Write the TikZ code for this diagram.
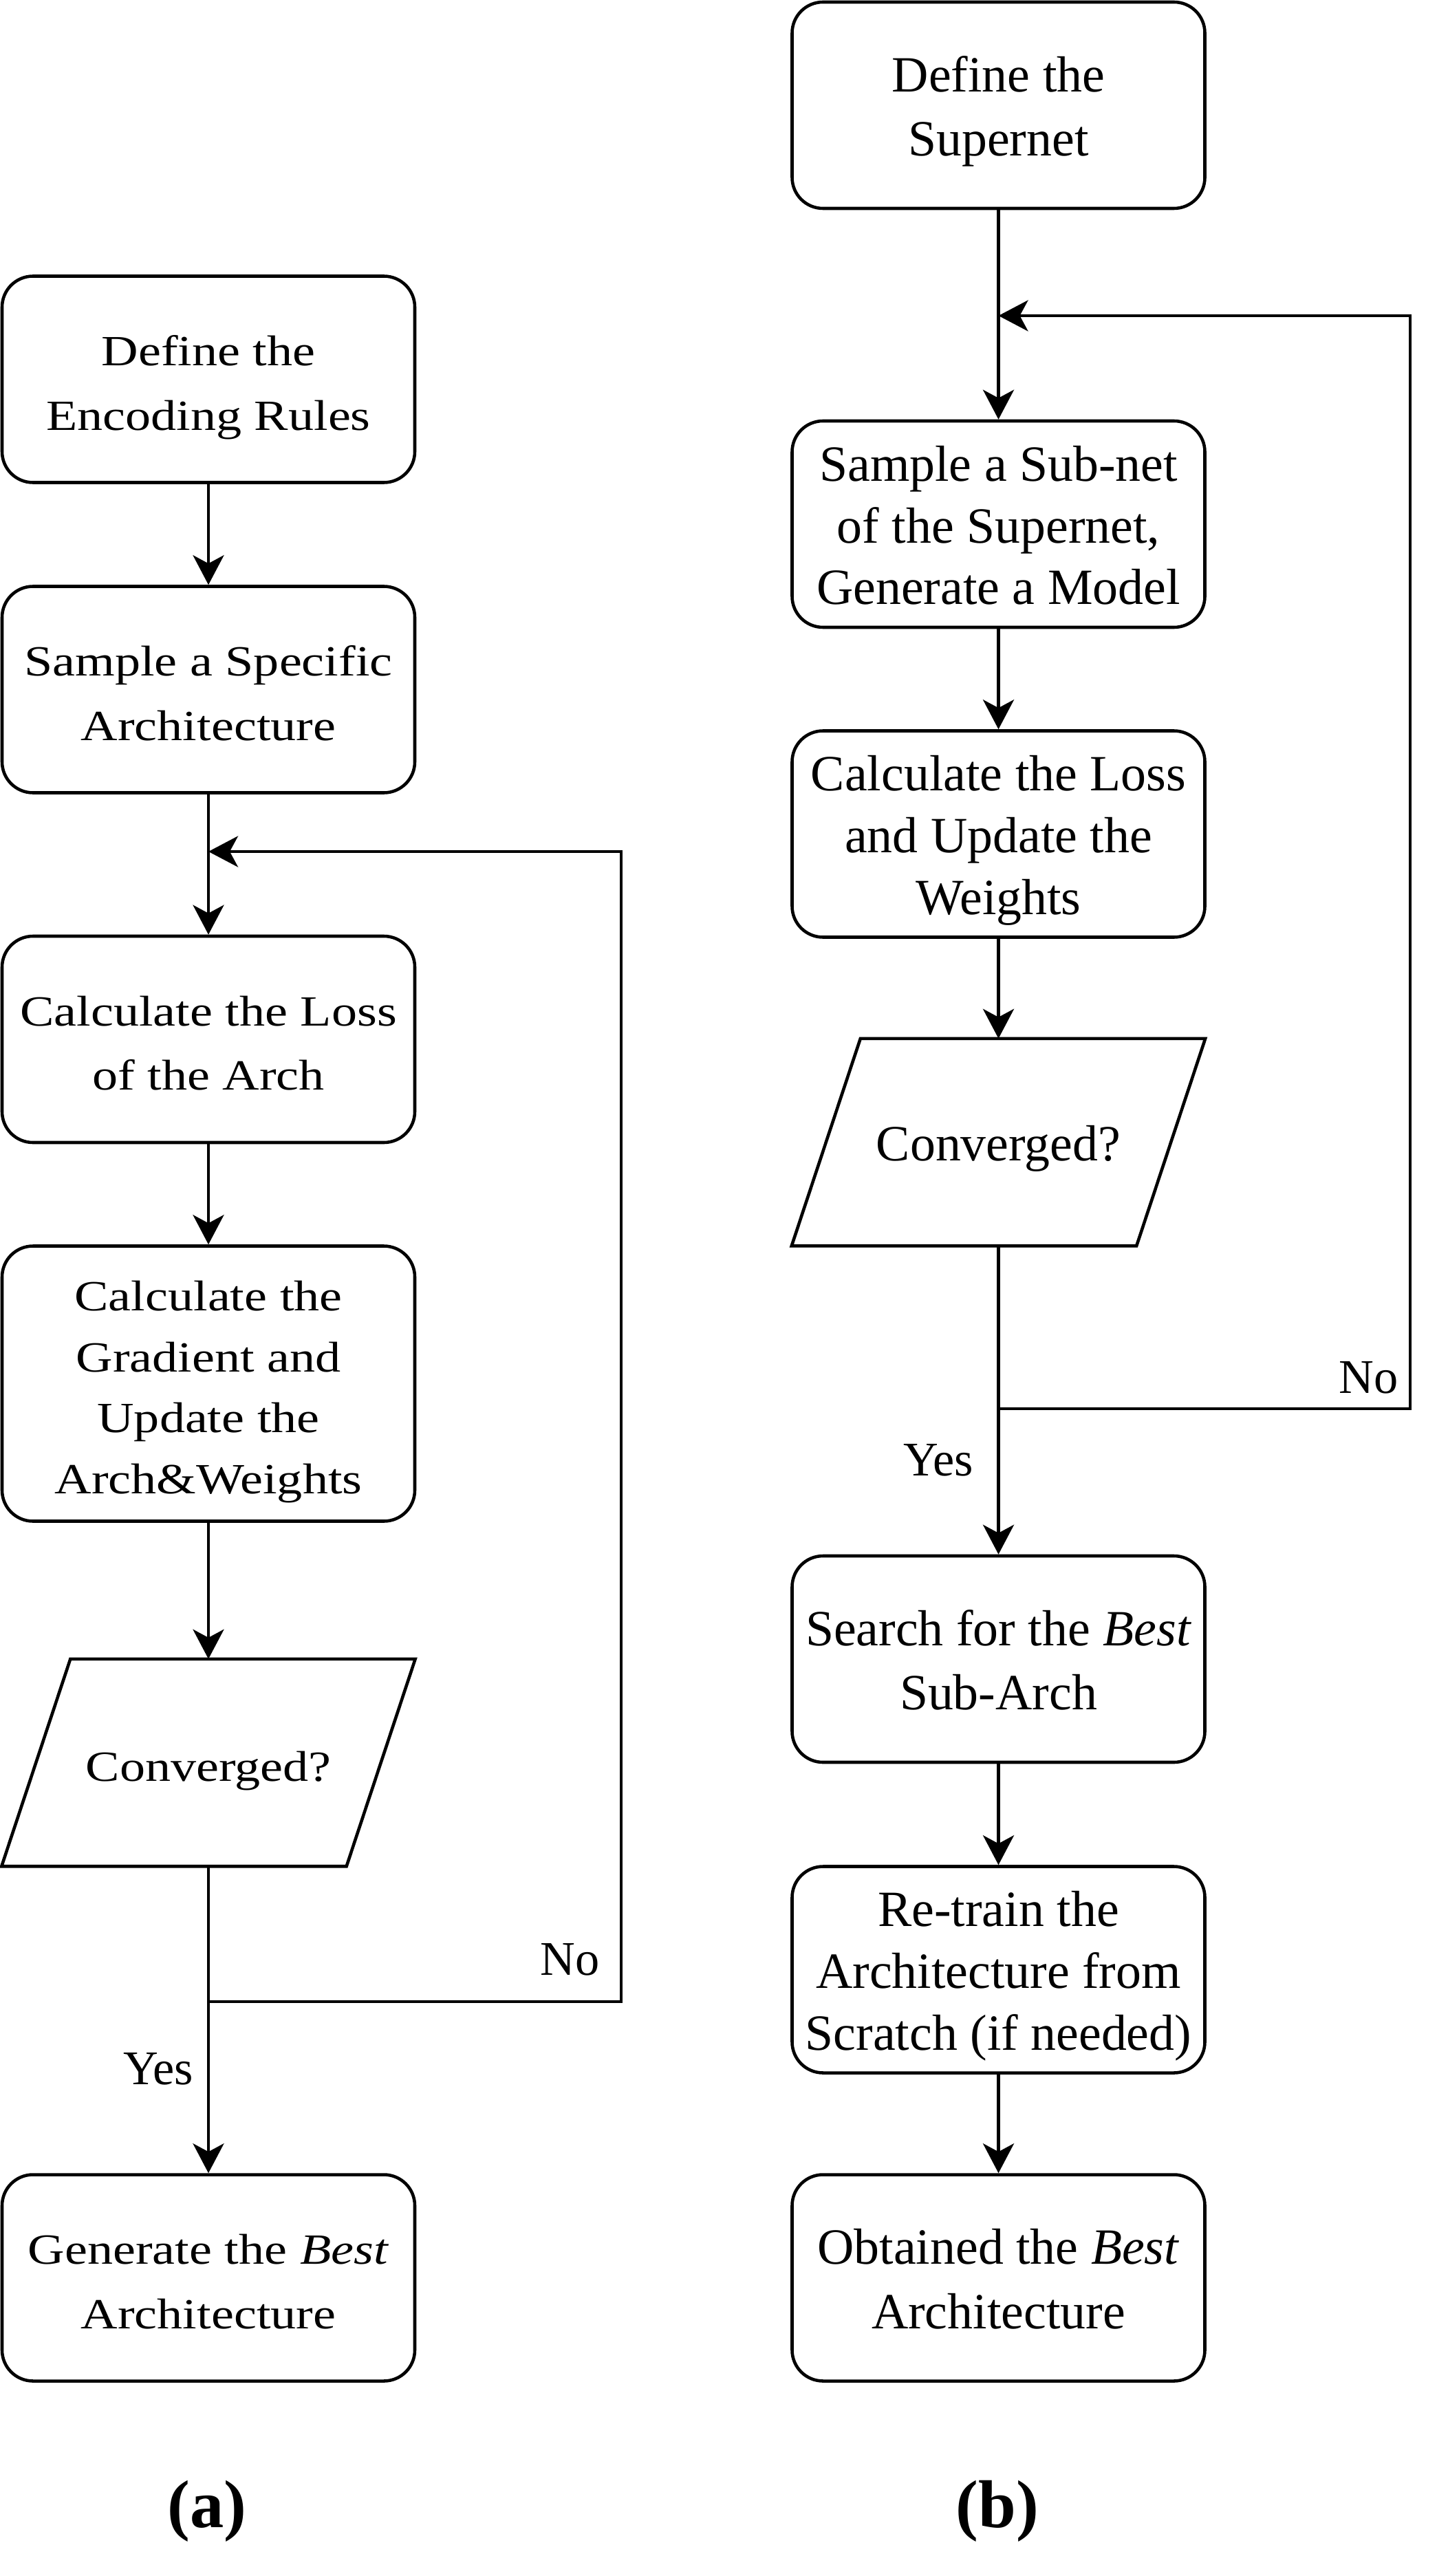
\documentclass[tikz,border=0pt]{standalone}
\usepackage{fontspec}
\setmainfont{Liberation Serif}
\newfontfamily\boxfont{Liberation Serif}[FakeStretch=1.185]
\usepackage{tikz}
\usetikzlibrary{positioning,calc}
\usetikzlibrary{arrows.meta}

\newcommand{\bstr}{\rule[-0.18cm]{0pt}{0.90cm}}

\tikzset{
  procbox/.style={draw=black, line width=1.3pt, rounded corners=0.45cm, minimum width=6cm, minimum height=3cm, align=center, inner sep=0pt},
  iobox/.style={minimum width=5cm, minimum height=3cm, align=center, inner sep=0pt},
  ioline/.style={draw=black, line width=1.3pt},
  texta/.style={font=\boxfont\fontsize{17.8}{25.3}\selectfont},
  textb/.style={font=\fontsize{21}{25.6}\selectfont},
  flow/.style={line width=1.3pt, -{Stealth[length=4.3mm,width=4.5mm,inset=1.2mm]}},
  lbl/.style={inner sep=0pt, font=\fontsize{20}{24}\selectfont},
  subcap/.style={inner sep=0pt, font=\fontsize{28}{32}\selectfont\bfseries}
}

\begin{document}
\begin{tikzpicture}
  \useasboundingbox (0,0) rectangle (21.05,-37.45);
  % (a)
  \node[procbox, texta] (enc) at (3.03,-5.515) {\bstr Define the\\Encoding Rules\bstr};
  \node[procbox, texta] (samp) at (3.03,-10.025) {\bstr Sample a Specific\\Architecture\bstr};
  \node[procbox, texta] (loss) at (3.03,-15.11) {\bstr Calculate the Loss\\of the Arch\bstr};
  \node[procbox, texta, minimum height=4cm] (grad) at (3.03,-20.115) {\bstr Calculate the\\Gradient and\\Update the\\Arch\&Weights\bstr};
  \node[iobox, texta] (conv) at (3.03,-25.625) {\bstr Converged?};
  \draw[ioline] ([xshift=-5mm]conv.south west) -- ([xshift=-5mm]conv.south east)
     -- ([xshift=5mm]conv.north east) -- ([xshift=5mm]conv.north west) -- cycle;
  \node[procbox, texta] (best) at (3.03,-33.115) {\bstr Generate the \textit{Best}\\Architecture\bstr};
  \coordinate (joinA) at (3.03,-12.38);
  \coordinate (splitA) at (3.03,-29.10);
  \coordinate (cornerA) at (9.03,-29.10);

  \draw[flow] (enc) -- (samp);
  \draw[flow] (samp) -- (loss);
  \draw[flow] (loss) -- (grad);
  \draw[flow] (grad) -- (conv);
  \draw[flow] (conv) -- (best);
  \draw[flow] (splitA) -- (cornerA) |- (joinA);
  \node[lbl, anchor=base east] (noA) at (8.72,-28.71) {No};
  \node[lbl, anchor=base east] (yesA) at (2.82,-30.30) {Yes};
  \node[subcap] (capA) at (3.01,-36.51) {(a)};

  % (b)
  \node[procbox, textb] (supnet) at (14.515,-1.53) {\bstr Define the\\Supernet\bstr};
  \node[procbox, textb] (subnet) at (14.515,-7.62) {\bstr Sample a Sub-net\\of the Supernet,\\Generate a Model\bstr};
  \node[procbox, textb] (upd) at (14.515,-12.125) {\bstr Calculate the Loss\\and Update the\\Weights\bstr};
  \node[iobox, textb] (convb) at (14.515,-16.605) {\bstr Converged?};
  \draw[ioline] ([xshift=-5mm]convb.south west) -- ([xshift=-5mm]convb.south east)
     -- ([xshift=5mm]convb.north east) -- ([xshift=5mm]convb.north west) -- cycle;
  \node[procbox, textb] (search) at (14.515,-24.12) {\bstr Search for the \textit{Best}\\Sub-Arch\bstr};
  \node[procbox, textb] (retrain) at (14.515,-28.635) {\bstr Re-train the\\Architecture from\\Scratch (if needed)\bstr};
  \node[procbox, textb] (obtain) at (14.515,-33.115) {\bstr Obtained the \textit{Best}\\Architecture\bstr};
  \coordinate (joinB) at (14.515,-4.59);
  \coordinate (splitB) at (14.515,-20.48);
  \coordinate (cornerB) at (20.50,-20.48);

  \draw[flow] (supnet) -- (subnet);
  \draw[flow] (subnet) -- (upd);
  \draw[flow] (upd) -- (convb);
  \draw[flow] (convb) -- (search);
  \draw[flow] (search) -- (retrain);
  \draw[flow] (retrain) -- (obtain);
  \draw[flow] (splitB) -- (cornerB) |- (joinB);
  \node[lbl, anchor=base east] (noB) at (20.33,-20.25) {No};
  \node[lbl, anchor=base east] (yesB) at (14.16,-21.45) {Yes};
  \node[subcap] (capB) at (14.50,-36.51) {(b)};
\end{tikzpicture}
\end{document}
